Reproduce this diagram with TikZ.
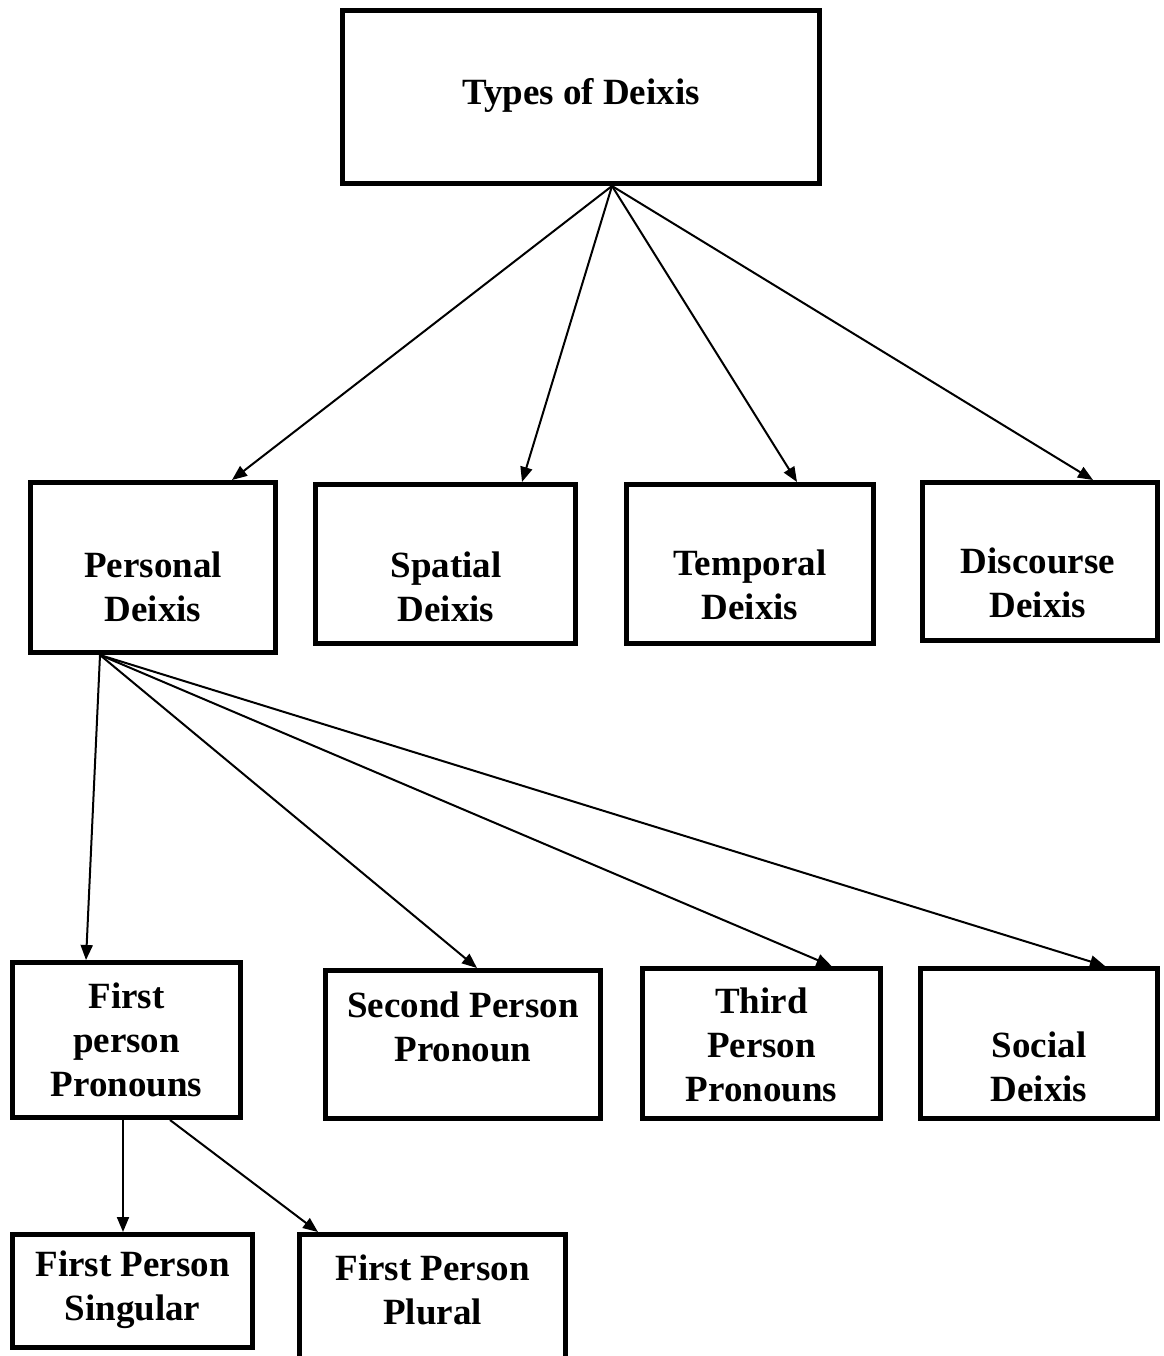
\documentclass[tikz,border=0pt]{standalone}
\usepackage{fontspec}
\setmainfont{Liberation Serif}
\usetikzlibrary{arrows.meta,calc,positioning}

\tikzset{
  box/.style={draw,line width=5pt,inner sep=0pt},
  lbl/.style={align=center,inner sep=0pt,font=\bfseries\fontsize{37}{44}\selectfont},
  arr/.style={line width=2pt,-{Triangle[length=15pt,width=12pt]}}
}

\begin{document}
\begin{tikzpicture}[x=1pt,y=-1pt,line join=miter]
\useasboundingbox (0,0) rectangle (1163,1356);
% boxes
\node[box,minimum width=477pt,minimum height=173pt] (types) at (581,97) {};
\node[box,minimum width=245pt,minimum height=170pt] (pers) at (153,567.5) {};
\node[box,minimum width=260pt,minimum height=159pt] (spat) at (445.5,564) {};
\node[box,minimum width=247pt,minimum height=159pt] (temp) at (750,564) {};
\node[box,minimum width=235pt,minimum height=158pt] (disc) at (1040,561.5) {};
\node[box,minimum width=228pt,minimum height=155pt] (first) at (126.5,1040) {};
\node[box,minimum width=275pt,minimum height=148pt] (second) at (463,1044.5) {};
\node[box,minimum width=238pt,minimum height=150pt] (third) at (761.5,1043.5) {};
\node[box,minimum width=237pt,minimum height=150pt] (social) at (1039,1043.5) {};
\node[box,minimum width=240pt,minimum height=113pt] (sing) at (132.5,1291) {};
\node[box,minimum width=266pt,minimum height=125pt] (plur) at (432.5,1297) {};
% labels
\node[lbl] (types-l) at (581,95) {Types of Deixis};
\node[lbl] (pers-l) at (153,587) {Personal\\Deixis};
\node[lbl] (spat-l) at (446,587) {Spatial\\Deixis};
\node[lbl] (temp-l) at (750,585) {Temporal\\Deixis};
\node[lbl] (disc-l) at (1038,583) {Discourse\\Deixis};
\node[lbl] (first-l) at (126.5,1040) {First\\person\\Pronouns};
\node[lbl] (second-l) at (463,1027) {Second Person\\Pronoun};
\node[lbl] (third-l) at (761.5,1045) {Third\\Person\\Pronouns};
\node[lbl] (social-l) at (1039,1067) {Social\\Deixis};
\node[lbl] (sing-l) at (132.5,1290) {First Person\\Singular};
\node[lbl] (plur-l) at (432.5,1290) {First Person\\Plural};
% arrow origins
\coordinate (t0) at ($(types.south)+(31,0)$);
\coordinate (p0) at ($(pers.south)+(-53,0)$);
\coordinate (f1) at ($(first.south)+(-3.5,0)$);
\coordinate (f2) at ($(first.south)+(43.5,0)$);
% arrows
\draw[arr] (t0)--($(pers.north)+(79,0)$);
\draw[arr] (t0)--($(spat.north)+(76.5,0)$);
\draw[arr] (t0)--($(temp.north)+(47,0)$);
\draw[arr] (t0)--($(disc.north)+(53,0)$);
\draw[arr] (p0)--($(first.north)+(-40.5,0)$);
\draw[arr] (p0)--($(second.north)+(14,0)$);
\draw[arr] (p0)--($(third.north)+(70,0)$);
\draw[arr] (p0)--($(social.north)+(66,0)$);
\draw[arr] (f1)--($(sing.north)+(-9.5,0)$);
\draw[arr] (f2)--($(plur.north)+(-114.5,0)$);
\end{tikzpicture}
\end{document}
